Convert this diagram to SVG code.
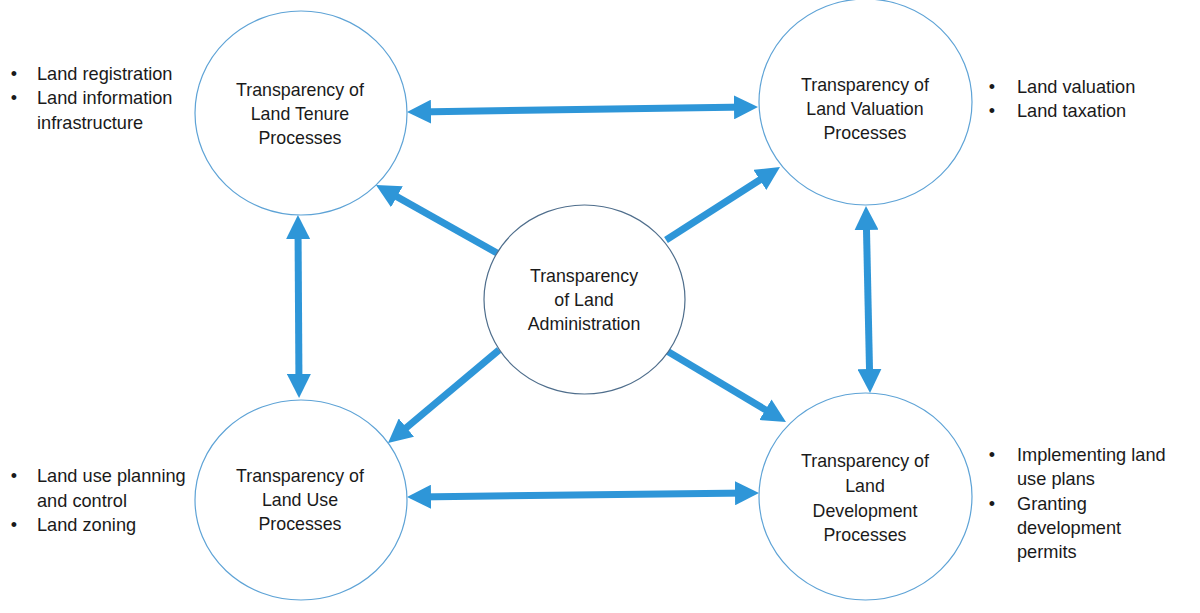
<svg xmlns="http://www.w3.org/2000/svg" width="1200" height="613" viewBox="0 0 1200 613">
<style>
.node{fill:#fff;stroke:#5ea3d6;stroke-width:1.2}
.center{fill:#fff;stroke:#4f6e8c;stroke-width:1.2}
.t{font-family:"Liberation Sans",Arial,sans-serif;font-size:17.8px;fill:#1a1a1a;text-anchor:middle}
.b{font-family:"Liberation Sans",Arial,sans-serif;font-size:18.2px;fill:#1a1a1a}
.bul{font-family:"Liberation Sans",Arial,sans-serif;font-size:18px;fill:#1a1a1a;text-anchor:middle}
.arr{stroke:#2e96d8;stroke-width:7;fill:none}
</style>
<defs>
<marker id="ah" markerUnits="userSpaceOnUse" viewBox="0 0 24 24" markerWidth="24" markerHeight="24" refX="14" refY="12" orient="auto-start-reverse">
<path d="M0,0 L24,12 L0,24 z" fill="#2e96d8"/>
</marker>
</defs>
<rect width="1200" height="613" fill="#fff"/>
<g id="connectors">
<line class="arr" x1="417" y1="111.9" x2="748" y2="107.1" marker-start="url(#ah)" marker-end="url(#ah)"/>
<line class="arr" x1="417" y1="496.9" x2="749" y2="493.1" marker-start="url(#ah)" marker-end="url(#ah)"/>
<line class="arr" x1="298" y1="225" x2="299" y2="388" marker-start="url(#ah)" marker-end="url(#ah)"/>
<line class="arr" x1="866.2" y1="216" x2="869.8" y2="383" marker-start="url(#ah)" marker-end="url(#ah)"/>
<line class="arr" x1="497" y1="253" x2="384.7" y2="189.9" marker-end="url(#ah)"/>
<line class="arr" x1="666" y1="240" x2="771.6" y2="172.4" marker-end="url(#ah)"/>
<line class="arr" x1="499" y1="350" x2="395.7" y2="436.6" marker-end="url(#ah)"/>
<line class="arr" x1="667" y1="351" x2="777.4" y2="416.9" marker-end="url(#ah)"/>
</g>
<g id="tenure">
<ellipse class="node" cx="301" cy="113" rx="106" ry="102"/>
<text class="t" x="300" y="96">Transparency of</text>
<text class="t" x="300" y="120">Land Tenure</text>
<text class="t" x="300" y="144">Processes</text>
</g>
<g id="valuation">
<ellipse class="node" cx="865.5" cy="102" rx="106.5" ry="103"/>
<text class="t" x="865" y="91">Transparency of</text>
<text class="t" x="865" y="115">Land Valuation</text>
<text class="t" x="865" y="139">Processes</text>
</g>
<g id="administration">
<ellipse class="center" cx="584.5" cy="299.5" rx="100.5" ry="94.5"/>
<text class="t" x="584" y="282">Transparency</text>
<text class="t" x="584" y="306">of Land</text>
<text class="t" x="584" y="330">Administration</text>
</g>
<g id="landuse">
<ellipse class="node" cx="301" cy="500" rx="106" ry="100"/>
<text class="t" x="300" y="482">Transparency of</text>
<text class="t" x="300" y="506">Land Use</text>
<text class="t" x="300" y="530">Processes</text>
</g>
<g id="development">
<ellipse class="node" cx="865.5" cy="496.5" rx="106.5" ry="103.5"/>
<text class="t" x="865" y="467">Transparency of</text>
<text class="t" x="865" y="492">Land</text>
<text class="t" x="865" y="517">Development</text>
<text class="t" x="865" y="541">Processes</text>
</g>
<g id="tenure-list">
<text class="bul" x="14" y="80">•</text>
<text class="b" x="37" y="80">Land registration</text>
<text class="bul" x="14" y="104">•</text>
<text class="b" x="37" y="104">Land information</text>
<text class="b" x="37" y="129">infrastructure</text>
</g>
<g id="valuation-list">
<text class="bul" x="992" y="93">•</text>
<text class="b" x="1017" y="93">Land valuation</text>
<text class="bul" x="992" y="117">•</text>
<text class="b" x="1017" y="117">Land taxation</text>
</g>
<g id="landuse-list">
<text class="bul" x="14" y="482">•</text>
<text class="b" x="37" y="482">Land use planning</text>
<text class="b" x="37" y="507">and control</text>
<text class="bul" x="14" y="531">•</text>
<text class="b" x="37" y="531">Land zoning</text>
</g>
<g id="development-list">
<text class="bul" x="992" y="461">•</text>
<text class="b" x="1017" y="461">Implementing land</text>
<text class="b" x="1017" y="485">use plans</text>
<text class="bul" x="992" y="510">•</text>
<text class="b" x="1017" y="510">Granting</text>
<text class="b" x="1017" y="534">development</text>
<text class="b" x="1017" y="558">permits</text>
</g>
</svg>
